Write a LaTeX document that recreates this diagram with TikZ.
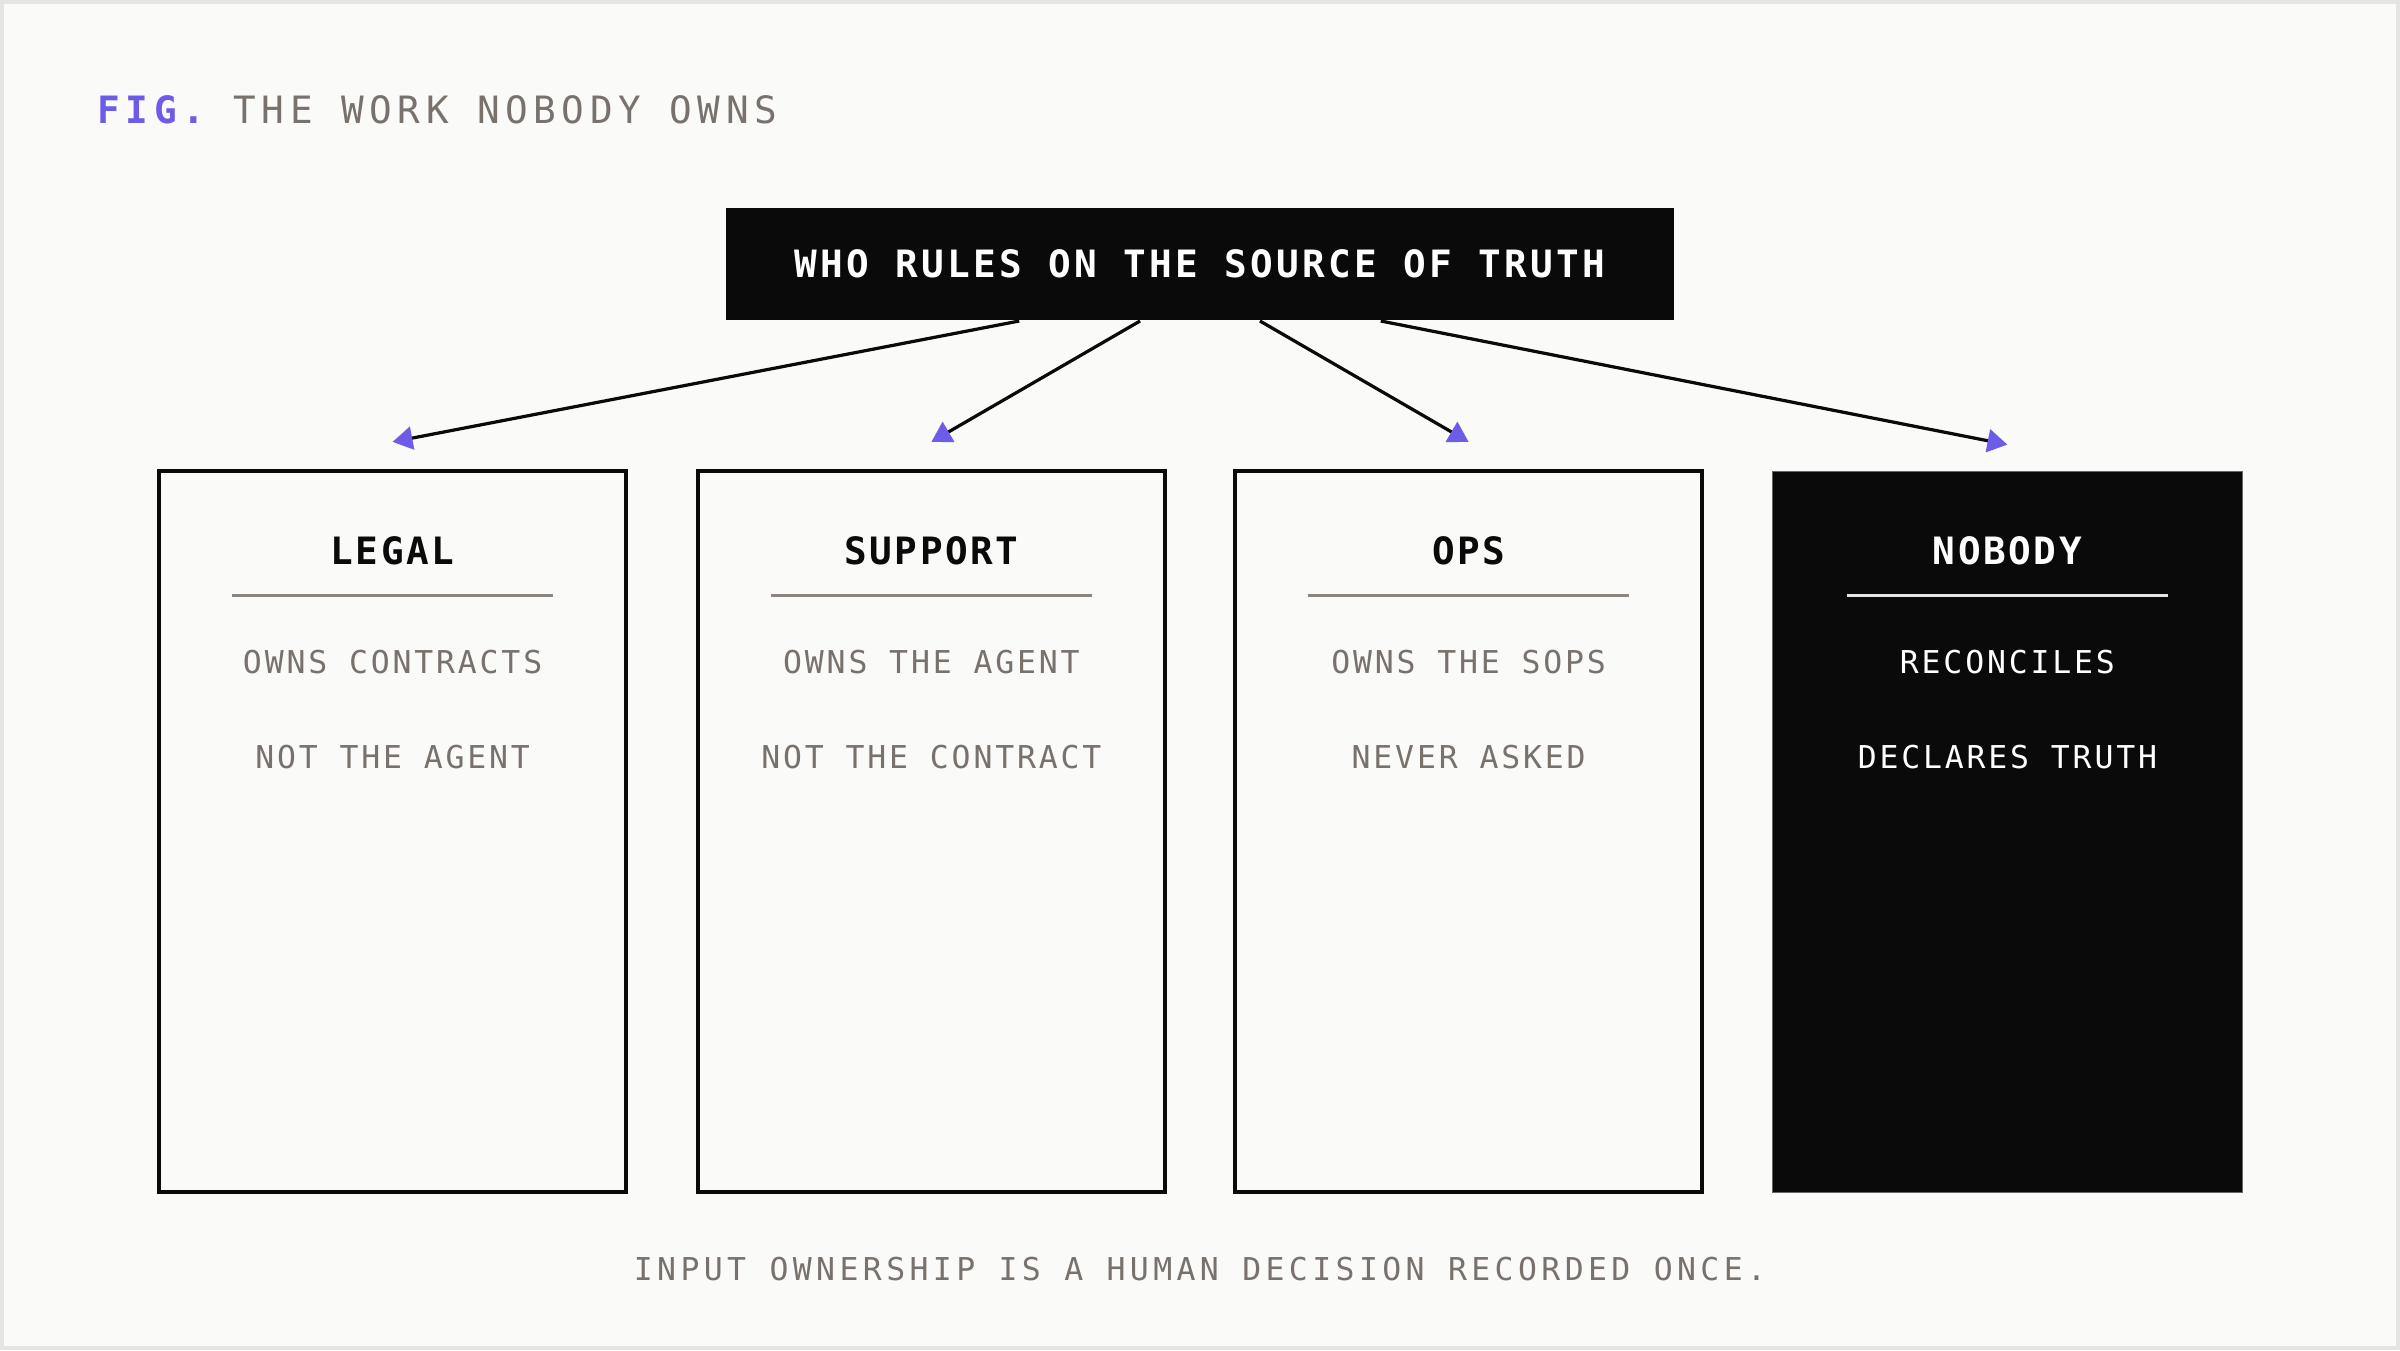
\documentclass[tikz,border=0pt]{standalone}
\usepackage{fontspec}
\setmonofont{DejaVu Sans Mono}
\newfontfamily\topfont[LetterSpace=9]{DejaVu Sans Mono}
\newfontfamily\headfont[LetterSpace=6.8]{DejaVu Sans Mono}
\newfontfamily\bodyfont[LetterSpace=9]{DejaVu Sans Mono}
\newfontfamily\notefont[LetterSpace=14]{DejaVu Sans Mono}
\newfontfamily\figfont[LetterSpace=15]{DejaVu Sans Mono}
\usetikzlibrary{calc}
\usetikzlibrary{arrows.meta}

\definecolor{ink}{HTML}{0A0A0A}
\definecolor{paper}{HTML}{FAFAF8}
\definecolor{rim}{HTML}{E5E4E1}
\definecolor{stone}{HTML}{78716C}
\definecolor{rulegray}{HTML}{8C8681}
\definecolor{violet}{HTML}{6C5CE7}

\tikzset{
  owner/.style={draw=ink,line width=0.75pt,minimum width=30.5mm,minimum height=47.1mm,inner sep=0pt},
  blackowner/.style={owner,fill=ink,draw=black!60,line width=0.3pt,minimum width=30.7mm},
  title/.style={anchor=base,font=\headfont\bfseries\fontsize{7}{8}\selectfont,text=ink},
  duty/.style={anchor=base,font=\bodyfont\fontsize{5.85}{7}\selectfont,text=stone},
  sep/.style={draw=rulegray,line width=0.43pt},
  feed/.style={draw=ink,line width=0.6pt,-{Triangle[length=1.3mm,width=1.5mm,color=violet,fill=violet]}}
}

\begin{document}
\begin{tikzpicture}[x=0.1mm,y=-0.1mm]
\useasboundingbox (0,0) rectangle (1568,882);
\fill[paper] (0,0) rectangle (1568,882);
\draw[rim,line width=0.75pt] (1.3,1.3) rectangle (1566.7,880.7);

% heading
\node[anchor=base west,inner sep=0pt,font=\figfont\fontsize{7}{8}\selectfont] (fig) at (63,81)
  {{\bfseries\color{violet}FIG.} {\color{stone}THE WORK NOBODY OWNS}};

% question box
\node[fill=ink,text=white,minimum width=62mm,minimum height=7.3mm,inner sep=0pt,
  font=\topfont\bfseries\fontsize{7}{8}\selectfont] (truth) at (784,172.5) {WHO RULES ON THE SOURCE OF TRUTH};

% owner boxes
\node[owner] (legal) at (256.5,543.5) {};
\node[owner] (support) at (608.5,543.5) {};
\node[owner] (ops) at (959.5,543.5) {};
\node[blackowner] (nobody) at (1311.5,543.5) {};

\coordinate (legal tip) at ($(legal.north)+(0,-18)$);
\coordinate (support tip) at ($(support.north)+(0,-18)$);
\coordinate (ops tip) at ($(ops.north)+(0,-18)$);
\coordinate (nobody tip) at ($(nobody.north)+(0,-17)$);

\draw[feed] ($(truth.south west)!0.31!(truth.south east)$) -- (legal tip);
\draw[feed] ($(truth.south west)!0.437!(truth.south east)$) -- (support tip);
\draw[feed] ($(truth.south west)!0.563!(truth.south east)$) -- (ops tip);
\draw[feed] ($(truth.south west)!0.69!(truth.south east)$) -- (nobody tip);

% legal
\node[title] (legal title) at (256.5,369) {LEGAL};
\draw[sep] (151.5,389) -- (361.5,389);
\node[duty] (legal a) at (256.5,440) {OWNS CONTRACTS};
\node[duty] (legal b) at (256.5,502) {NOT THE AGENT};

% support
\node[title] (support title) at (608.5,369) {SUPPORT};
\draw[sep] (503.5,389) -- (713.5,389);
\node[duty] (support a) at (608.5,440) {OWNS THE AGENT};
\node[duty] (support b) at (608.5,502) {NOT THE CONTRACT};

% ops
\node[title] (ops title) at (959.5,369) {OPS};
\draw[sep] (854.5,389) -- (1064.5,389);
\node[duty] (ops a) at (959.5,440) {OWNS THE SOPS};
\node[duty] (ops b) at (959.5,502) {NEVER ASKED};

% nobody
\node[title,text=white] (nobody title) at (1311.5,369) {NOBODY};
\draw[sep,draw=white!90!black] (1206.5,389) -- (1416.5,389);
\node[duty,text=white] (nobody a) at (1311.5,440) {RECONCILES};
\node[duty,text=white] (nobody b) at (1311.5,502) {DECLARES TRUTH};

% footnote
\node[anchor=base,font=\notefont\fontsize{5.85}{7}\selectfont,text=stone] (note) at (784,836.5)
  {INPUT OWNERSHIP IS A HUMAN DECISION RECORDED ONCE.};
\end{tikzpicture}
\end{document}
